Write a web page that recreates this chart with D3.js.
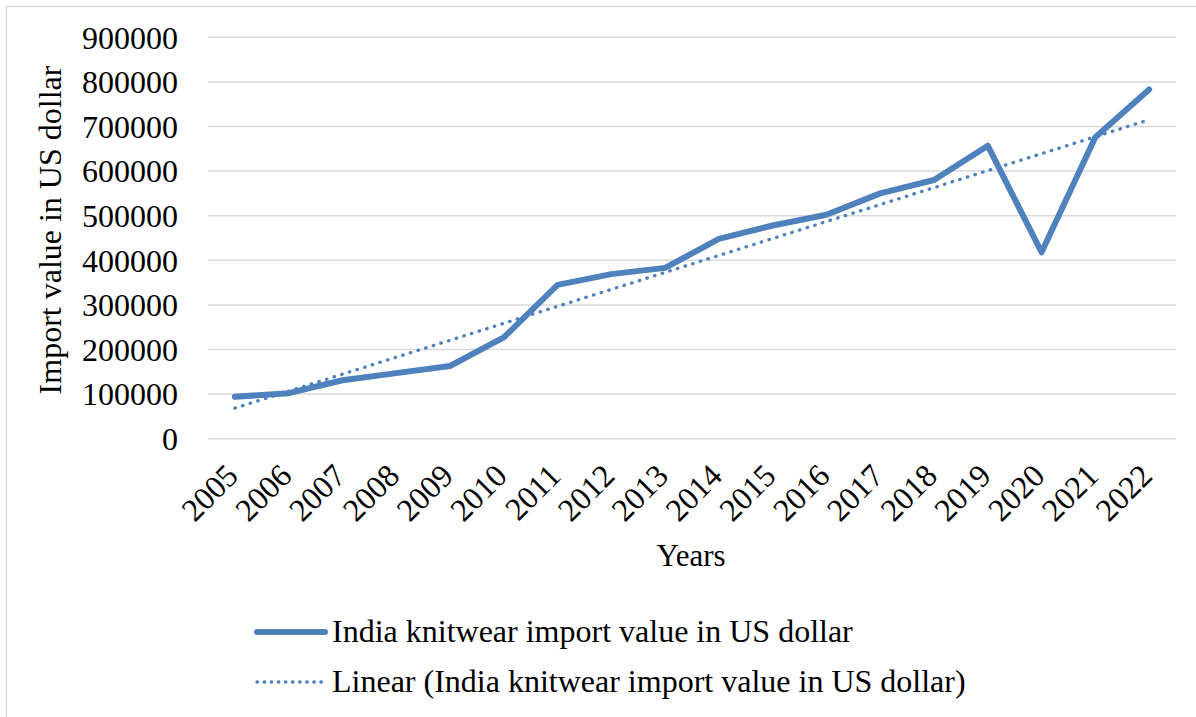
<!DOCTYPE html>
<html>
<head>
<meta charset="utf-8">
<script src="https://cdn.jsdelivr.net/npm/d3@7"></script>
<style>
  html, body { margin: 0; padding: 0; background: #fff; }
  svg { display: block; }
</style>
</head>
<body>
<svg id="chart" width="1196" height="717" font-family="Liberation Serif"></svg>
<script>
// ---- data ----
const years = ["2005","2006","2007","2008","2009","2010","2011","2012","2013","2014","2015","2016","2017","2018","2019","2020","2021","2022"];
const importValues = [94000,102000,131000,147000,163000,227000,345000,369000,383000,448000,478000,502000,550000,580000,657000,418000,676000,783000];
const yTicks = [0,100000,200000,300000,400000,500000,600000,700000,800000,900000];
const seriesName = "India knitwear import value in US dollar";
const trendName = "Linear (India knitwear import value in US dollar)";
const xTitle = "Years";
const yTitle = "Import value in US dollar";

// ---- layout ----
const W = 1196, H = 717;
const FONT = "Liberation Serif";
const plot = { left: 208, right: 1176, top: 37.3, bottom: 438.7 };
const blue = "#4f81bd";
const grid = "#d9d9d9";

const svg = d3.select("#chart");

// chart area border
svg.append("rect")
  .attr("x", 6.5).attr("y", 6.5)
  .attr("width", W + 20).attr("height", H + 20)
  .attr("fill", "none").attr("stroke", grid).attr("stroke-width", 1.5);

const x = d3.scaleBand().domain(years).range([plot.left, plot.right]);
const y = d3.scaleLinear().domain([0, 900000]).range([plot.bottom, plot.top]);
const cx = d => x(d) + x.bandwidth() / 2;

// gridlines
svg.append("g").selectAll("line").data(yTicks).join("line")
  .attr("x1", plot.left).attr("x2", plot.right)
  .attr("y1", d => y(d)).attr("y2", d => y(d))
  .attr("stroke", grid).attr("stroke-width", 1.5);

// y axis labels
const yAxis = d3.axisLeft(y).tickValues(yTicks).tickFormat(d3.format("d")).tickSize(0).tickPadding(0);
const yg = svg.append("g").attr("transform", `translate(178,0)`).call(yAxis)
  .attr("font-family", FONT).attr("font-size", 32);
yg.select(".domain").remove();
yg.selectAll("text")
  .attr("x", 0).attr("dy", "0.34em")
  .attr("font-family", FONT).attr("font-size", 32).attr("fill", "#000");

// x axis labels
const xAxis = d3.axisBottom(x).tickSize(0).tickPadding(0);
const xg = svg.append("g").attr("transform", `translate(0,${plot.bottom})`).call(xAxis)
  .attr("font-family", FONT).attr("font-size", 32);
xg.select(".domain").remove();
xg.selectAll("text")
  .attr("text-anchor", "end")
  .attr("x", 0).attr("y", 0).attr("dy", 0)
  .attr("transform", "translate(5,39) rotate(-45)")
  .attr("font-family", FONT).attr("font-size", 32).attr("fill", "#000");

// axis titles
svg.append("text")
  .attr("x", 691).attr("y", 566)
  .attr("text-anchor", "middle")
  .attr("font-family", FONT).attr("font-size", 31)
  .text(xTitle);

svg.append("text")
  .attr("transform", "translate(61,230) rotate(-90)")
  .attr("text-anchor", "middle")
  .attr("font-family", FONT).attr("font-size", 32)
  .text(yTitle);

// linear trend (least squares over the series)
const idx = years.map((d, i) => i);
const n = idx.length;
const mx = d3.mean(idx), my = d3.mean(importValues);
const sxy = d3.sum(idx, i => (i - mx) * (importValues[i] - my));
const sxx = d3.sum(idx, i => (i - mx) * (i - mx));
const slope = sxy / sxx, intercept = my - slope * mx;
const trendEnds = [0, n - 1].map(i => ({ year: years[i], v: intercept + slope * i }));

const line = d3.line().x(d => cx(d.year)).y(d => y(d.v));

svg.append("path")
  .datum(years.map((yr, i) => ({ year: yr, v: importValues[i] })))
  .attr("d", line)
  .attr("fill", "none").attr("stroke", blue)
  .attr("stroke-width", 6).attr("stroke-linejoin", "round").attr("stroke-linecap", "round");

svg.append("path")
  .datum(trendEnds)
  .attr("d", line)
  .attr("fill", "none").attr("stroke", blue)
  .attr("stroke-width", 3.3).attr("stroke-linecap", "round")
  .attr("stroke-dasharray", "0.5 7.5");

// legend
const legend = svg.append("g");
const items = [
  { name: seriesName, y: 632, width: 6, dash: null },
  { name: trendName, y: 682, width: 3.3, dash: "0.5 6.6" }
];
items.forEach(it => {
  legend.append("line")
    .attr("x1", 257).attr("x2", 325).attr("y1", it.y).attr("y2", it.y)
    .attr("stroke", blue).attr("stroke-width", it.width)
    .attr("stroke-linecap", "round")
    .attr("stroke-dasharray", it.dash);
  legend.append("text")
    .attr("x", 332).attr("y", it.y + 10)
    .attr("font-family", FONT).attr("font-size", 32)
    .text(it.name);
});
</script>
</body>
</html>
